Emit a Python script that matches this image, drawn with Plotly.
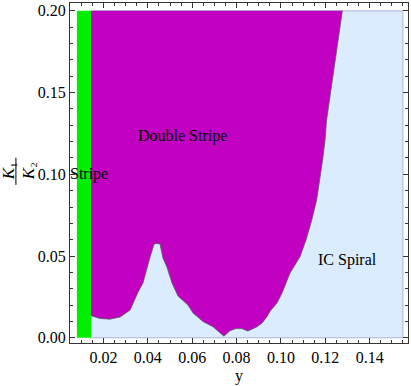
import plotly.graph_objects as go

# phase boundaries
stripe_x = [0.008, 0.0144]
k_range = [0.0, 0.2]
y_max_region = 0.155

boundary_x = [0.0144, 0.0184, 0.0229, 0.0275, 0.0320, 0.0356, 0.0378, 0.0396, 0.0410,
              0.0428, 0.0441, 0.0455, 0.0468, 0.0486, 0.0509, 0.0536, 0.0581, 0.0604,
              0.0649, 0.0694, 0.0725, 0.0743, 0.0770, 0.0797, 0.0824, 0.0851, 0.0892,
              0.0915, 0.0937, 0.0951, 0.0982, 0.1005, 0.1041, 0.1086, 0.1113, 0.1139,
              0.1161, 0.1176, 0.1188, 0.1199, 0.1206, 0.1277]
boundary_k = [0.0135, 0.0118, 0.0114, 0.0127, 0.0170, 0.0280, 0.0335, 0.0433, 0.0494,
              0.0573, 0.0577, 0.0573, 0.0488, 0.0433, 0.0335, 0.0255, 0.0200, 0.0151,
              0.0099, 0.0067, 0.0031, 0.0010, 0.0043, 0.0056, 0.0056, 0.0041, 0.0067,
              0.0090, 0.0129, 0.0163, 0.0212, 0.0274, 0.0396, 0.0496, 0.0598, 0.0720,
              0.0843, 0.0965, 0.1088, 0.1210, 0.1332, 0.2000]

xticks = [0.02, 0.04, 0.06, 0.08, 0.10, 0.12, 0.14]
yticks = [0.0, 0.05, 0.10, 0.15, 0.20]

FONT = "Liberation Serif"
fig = go.Figure()

# IC spiral background
fig.add_trace(go.Scatter(
    x=[stripe_x[1], y_max_region, y_max_region, stripe_x[1], stripe_x[1]],
    y=[k_range[0], k_range[0], k_range[1], k_range[1], k_range[0]],
    fill="toself", fillcolor="rgb(220,236,255)", mode="lines",
    line=dict(color="rgb(170,182,220)", width=1), hoverinfo="skip"))

# stripe
fig.add_trace(go.Scatter(
    x=[stripe_x[0], stripe_x[1], stripe_x[1], stripe_x[0], stripe_x[0]],
    y=[k_range[0], k_range[0], k_range[1], k_range[1], k_range[0]],
    fill="toself", fillcolor="rgb(0,238,0)", mode="lines",
    line=dict(width=0), hoverinfo="skip"))

# double stripe
fig.add_trace(go.Scatter(
    x=boundary_x + [boundary_x[0], boundary_x[0]],
    y=boundary_k + [k_range[1], boundary_k[0]],
    fill="toself", fillcolor="rgb(194,0,194)", mode="lines",
    line=dict(width=0), hoverinfo="skip"))
fig.add_trace(go.Scatter(
    x=boundary_x, y=boundary_k, mode="lines",
    line=dict(color="rgb(90,90,90)", width=0.8), hoverinfo="skip"))

lab = dict(showarrow=False, font=dict(family=FONT, size=16, color="black"))
fig.add_annotation(x=0.0135, y=0.1, text="Stripe", **lab)
fig.add_annotation(x=0.0556, y=0.1234, text="Double Stripe", **lab)
fig.add_annotation(x=0.1298, y=0.0476, text="IC Spiral", **lab)

# K1/K2 fraction as y label
frac = dict(xref="paper", yref="paper", x=0, y=0.505, xanchor="center",
            yanchor="middle", textangle=-90, showarrow=False,
            font=dict(family=FONT, size=17, color="black"))
fig.add_annotation(xshift=-62, text="<i>K</i>₁", **frac)
fig.add_annotation(xshift=-42, text="<i>K</i>₂", **frac)
fig.add_shape(type="line", xref="paper", yref="paper", x0=-0.160, x1=-0.160,
              y0=0.465, y1=0.545, line=dict(color="black", width=1))

axis = dict(showgrid=False, zeroline=False, showline=True, linecolor="#333",
            linewidth=1, mirror="allticks", ticks="inside", ticklen=5,
            tickcolor="#333", layer="above traces",
            tickfont=dict(family=FONT, size=16, color="black"))
fig.update_xaxes(range=[0.0049, 0.1573], tickvals=xticks,
                 ticktext=["%.2f" % v for v in xticks],
                 minor=dict(dtick=0.005, tick0=0, ticks="inside", ticklen=3, tickcolor="#333"),
                 title=dict(text="y", font=dict(family=FONT, size=16, color="black"), standoff=4),
                 **axis)
fig.update_yaxes(range=[-0.0032, 0.2048], tickvals=yticks,
                 ticktext=["%.2f" % v for v in yticks],
                 minor=dict(dtick=0.01, tick0=0, ticks="inside", ticklen=3, tickcolor="#333"),
                 **axis)

fig.update_layout(width=411, height=386, margin=dict(l=70, r=3, t=3, b=43),
                  plot_bgcolor="white", paper_bgcolor="white", showlegend=False)
fig.write_html("out.html", config={"displayModeBar": False},
               post_script="document.body.style.margin='0px';")
